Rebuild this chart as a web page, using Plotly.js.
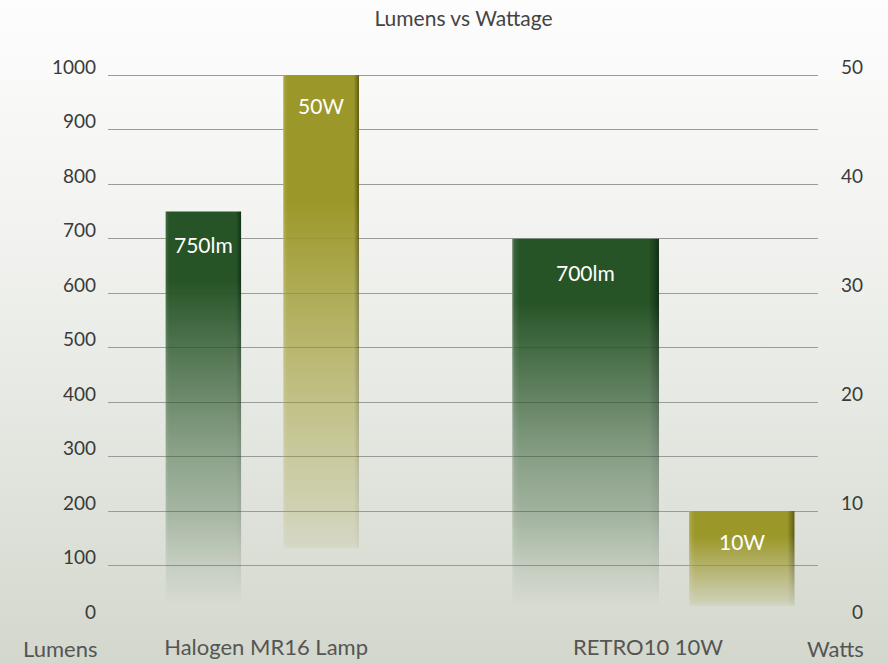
<!DOCTYPE html>
<html>
<head>
<meta charset="utf-8">
<script src="https://cdn.plot.ly/plotly-3.0.1.min.js"></script>
<style>
  html, body { margin: 0; padding: 0; }
  body { width: 888px; height: 663px; overflow: hidden;
    background: linear-gradient(to bottom, #fdfdfd 0%, #f2f3f0 35%, #e2e5de 70%, #d3d7cc 100%); }
  #chart { width: 888px; height: 663px; }
</style>
</head>
<body>
<svg width="0" height="0" style="position:absolute">
  <defs>
    <linearGradient id="fillL" x1="0" y1="0" x2="1" y2="0">
      <stop offset="0" stop-color="#7d8f7d"/>
      <stop offset="0.015" stop-color="#3a663a"/>
      <stop offset="0.05" stop-color="#275427"/>
      <stop offset="0.93" stop-color="#275427"/>
      <stop offset="1" stop-color="#123016"/>
    </linearGradient>
    <linearGradient id="fillW" x1="0" y1="0" x2="1" y2="0">
      <stop offset="0" stop-color="#b9b77a"/>
      <stop offset="0.02" stop-color="#a6a23a"/>
      <stop offset="0.06" stop-color="#9b9728"/>
      <stop offset="0.93" stop-color="#9b9728"/>
      <stop offset="1" stop-color="#5c5a14"/>
    </linearGradient>
    <linearGradient id="fadeL" x1="0" y1="0" x2="0" y2="1">
      <stop offset="0" stop-color="#fff" stop-opacity="1"/>
      <stop offset="0.17" stop-color="#fff" stop-opacity="1"/>
      <stop offset="0.58" stop-color="#fff" stop-opacity="0.48"/>
      <stop offset="0.73" stop-color="#fff" stop-opacity="0.32"/>
      <stop offset="0.87" stop-color="#fff" stop-opacity="0.11"/>
      <stop offset="0.96" stop-color="#fff" stop-opacity="0"/>
      <stop offset="1" stop-color="#fff" stop-opacity="0"/>
    </linearGradient>
    <linearGradient id="fadeW" x1="0" y1="0" x2="0" y2="1">
      <stop offset="0" stop-color="#fff" stop-opacity="1"/>
      <stop offset="0.23" stop-color="#fff" stop-opacity="1"/>
      <stop offset="0.69" stop-color="#fff" stop-opacity="0.37"/>
      <stop offset="0.80" stop-color="#fff" stop-opacity="0.22"/>
      <stop offset="0.865" stop-color="#fff" stop-opacity="0.1"/>
      <stop offset="0.87" stop-color="#fff" stop-opacity="0"/>
      <stop offset="1" stop-color="#fff" stop-opacity="0"/>
    </linearGradient>
    <mask id="maskL" maskContentUnits="objectBoundingBox">
      <rect x="0" y="0" width="1" height="1" fill="url(#fadeL)"/>
    </mask>
    <mask id="maskW" maskContentUnits="objectBoundingBox">
      <rect x="0" y="0" width="1" height="1" fill="url(#fadeW)"/>
    </mask>
  </defs>
</svg>
<div id="chart"></div>
<script>
// ---- data ----
const categories = ['Halogen MR16 Lamp', 'RETRO10 10W'];
const lumens = [750, 700];
const watts = [50, 10];
const lumenLabels = ['750lm', '700lm'];
const wattLabels = ['50W', '10W'];
const lumenTicks = [0, 100, 200, 300, 400, 500, 600, 700, 800, 900, 1000];
const wattTicks = [0, 10, 20, 30, 40, 50];
const leftAxisName = 'Lumens';
const rightAxisName = 'Watts';
const chartTitle = 'Lumens vs Wattage';

// ---- styles (bar placement within each category slot) ----
const lumOffset = [-0.264, -0.356];
const lumWidth = [0.199, 0.385];
const wattOffset = [0.0445, 0.107];
const wattWidth = [0.199, 0.277];

const FONT = 'Lato, "Open Sans", sans-serif';

const traces = [
  { type: 'bar', name: leftAxisName, x: categories, y: lumens, yaxis: 'y',
    offset: lumOffset, width: lumWidth, marker: { color: '#275427', line: { width: 0 } },
    hoverinfo: 'none' },
  { type: 'bar', name: rightAxisName, x: categories, y: watts, yaxis: 'y2',
    offset: wattOffset, width: wattWidth, marker: { color: '#9b9728', line: { width: 0 } },
    hoverinfo: 'none' }
];

const annotations = [];
categories.forEach((c, i) => {
  annotations.push({ xref: 'x', yref: 'y', x: i + lumOffset[i] + lumWidth[i] / 2, y: lumens[i],
    text: lumenLabels[i], showarrow: false, yanchor: 'top', yshift: -19,
    font: { family: FONT, size: 21, color: '#ffffff' } });
  annotations.push({ xref: 'x', yref: 'y2', x: i + wattOffset[i] + wattWidth[i] / 2, y: watts[i],
    text: wattLabels[i], showarrow: false, yanchor: 'top', yshift: -16,
    font: { family: FONT, size: 21, color: '#ffffff' } });
});
annotations.push({ xref: 'paper', yref: 'paper', x: -0.0676, y: -0.053, xanchor: 'center', yanchor: 'middle',
  text: leftAxisName, showarrow: false, font: { family: FONT, size: 22, color: '#555555' } });
annotations.push({ xref: 'paper', yref: 'paper', x: 1.024, y: -0.053, xanchor: 'center', yanchor: 'middle',
  text: rightAxisName, showarrow: false, font: { family: FONT, size: 22, color: '#555555' } });

const maxLen = Math.max(...wattTicks.map(v => String(v).length));
const wattTickText = wattTicks.map(v => '\u2007'.repeat(maxLen - String(v).length) + v);

const layout = {
  width: 888, height: 663,
  paper_bgcolor: 'rgba(0,0,0,0)', plot_bgcolor: 'rgba(0,0,0,0)',
  margin: { l: 108, r: 70, t: 74, b: 43 },
  showlegend: false,
  barmode: 'overlay',
  title: { text: chartTitle, x: 0.522, xanchor: 'center', y: 0.972, yanchor: 'middle',
    font: { family: FONT, size: 21, color: '#444444' } },
  font: { family: FONT },
  xaxis: { type: 'category', range: [-0.414, 1.445], showgrid: false, showline: false, zeroline: false,
    ticks: '', ticklabelstandoff: 12, tickfont: { family: FONT, size: 22, color: '#555555' } },
  yaxis: { range: [0, 1002], tickvals: lumenTicks, showgrid: true, gridcolor: '#9a9c98', gridwidth: 1,
    zeroline: true, zerolinecolor: 'rgba(0,0,0,0)', showline: false, ticks: '',
    ticklabelstandoff: 11, ticklabelshift: -8,
    tickfont: { family: FONT, size: 19, color: '#3a3a3a' } },
  yaxis2: { range: [0, 50.1], overlaying: 'y', side: 'right', tickvals: wattTicks, ticktext: wattTickText,
    showgrid: false, zeroline: false, showline: false, ticks: '',
    ticklabelstandoff: 22, ticklabelshift: -8,
    tickfont: { family: FONT, size: 19, color: '#3a3a3a' } },
  annotations: annotations
};

function styleBars(gd) {
  gd.querySelectorAll('.barlayer .trace.bars').forEach(g => {
    let idx = 0;
    try { idx = g.__data__[0].trace.index; } catch (e) {}
    const k = idx === 0 ? 'L' : 'W';
    g.querySelectorAll('path').forEach(p => {
      p.style.fill = 'url(#fill' + k + ')';
      p.style.stroke = 'none';
      p.setAttribute('mask', 'url(#mask' + k + ')');
    });
  });
}

const gd = document.getElementById('chart');
Plotly.newPlot(gd, traces, layout, { staticPlot: true, displayModeBar: false }).then(() => styleBars(gd));
</script>
</body>
</html>
